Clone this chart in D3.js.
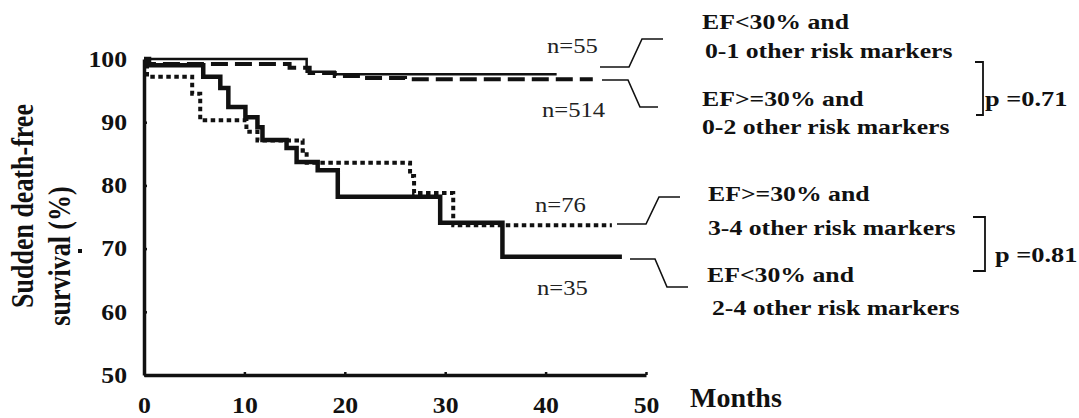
<!DOCTYPE html>
<html>
<head>
<meta charset="utf-8">
<script src="https://cdn.jsdelivr.net/npm/d3@7"></script>
<style>
  body { margin: 0; background: #fff; }
  svg { font-family: "Liberation Serif", "Times New Roman", serif; }
  .axis path, .axis line { stroke: #111; }
</style>
</head>
<body>
<svg width="1079" height="418"></svg>
<script>
// Kaplan-Meier steps: months and survival (%)
const thinTimes = [0, 16.2, 19, 41.1];
const thinValues = [100, 98.0, 97.6, 97.6];

const dashTimes = [0, 0.4, 14.5, 16.5, 19, 22, 26, 44.7];
const dashValues = [100, 99.2, 98.6, 97.8, 97.3, 97.0, 96.8, 96.8];

const dotTimes = [0, 0.3, 4.8, 5.6, 10.2, 11.3, 15.8, 16.2, 26.5, 26.9, 30.8, 46.6];
const dotValues = [100, 97.2, 94.5, 90.3, 88.5, 87.1, 85.5, 83.6, 81.5, 78.8, 73.7, 73.7];

const thickTimes = [0, 0.5, 5.9, 7.6, 8.4, 10.1, 11.3, 11.8, 14.2, 15.2, 17.3, 19.3, 29.5, 35.7, 47.6];
const thickValues = [100, 99.0, 97.2, 95.4, 92.4, 90.8, 89.2, 87.2, 85.9, 83.7, 82.4, 78.2, 74.1, 68.7, 68.7];

const xTicks = [0, 10, 20, 30, 40, 50];
const yTicks = [50, 60, 70, 80, 90, 100];

const groupLabels = ['n=55', 'n=514', 'n=76', 'n=35'];
const legendLines = [
  'EF<30% and', '0-1 other risk markers',
  'EF>=30% and', '0-2 other risk markers',
  'EF>=30% and', '3-4 other risk markers',
  'EF<30% and', '2-4 other risk markers'
];
const pValues = ['p =0.71', 'p =0.81'];

const serif = '"Liberation Serif", "Times New Roman", serif';
const svg = d3.select('svg');

const x = d3.scaleLinear().domain([0, 50]).range([144, 646]);
const y = d3.scaleLinear().domain([50, 100]).range([375, 59]);

function styleAxis(g) {
  g.attr('font-family', null).attr('font-size', null);
  g.select('.domain').attr('stroke-width', 3.5);
  g.selectAll('.tick line').attr('stroke-width', 2.5);
  g.selectAll('.tick text')
      .attr('font-family', serif)
      .attr('font-size', 23)
      .attr('font-weight', 'bold')
      .attr('fill', '#111');
}

// axes
svg.append('g')
    .attr('class', 'axis')
    .attr('transform', 'translate(0,' + y(50) + ')')
    .call(d3.axisBottom(x).tickValues(xTicks).tickSizeInner(-3).tickSizeOuter(0).tickPadding(22))
    .call(styleAxis)
    .call(g => g.selectAll('.tick text').attr('transform', 'scale(1.12,1)'));

svg.append('g')
    .attr('class', 'axis')
    .attr('transform', 'translate(' + x(0) + ',0)')
    .call(d3.axisLeft(y).tickValues(yTicks).tickSizeInner(-3).tickSizeOuter(0).tickPadding(0))
    .call(styleAxis)
    .call(g => g.selectAll('.tick text').attr('x', 0).attr('transform', 'translate(-17,0) scale(1.12,1)'));

// curves
const line = d3.line()
    .x(d => x(d[0]))
    .y(d => y(d[1]))
    .curve(d3.curveStepAfter);

const curves = [
  {t: thinTimes, v: thinValues, w: 2.5, dash: null},
  {t: dashTimes, v: dashValues, w: 4, dash: '17,7'},
  {t: dotTimes, v: dotValues, w: 4, dash: '4.5,3.5'},
  {t: thickTimes, v: thickValues, w: 4.5, dash: null}
];

curves.forEach(c => {
  svg.append('path')
      .datum(d3.zip(c.t, c.v))
      .attr('fill', 'none')
      .attr('stroke', '#111')
      .attr('stroke-width', c.w)
      .attr('stroke-dasharray', c.dash)
      .attr('d', line);
});

// group size labels
const nPos = [[547, 53], [542, 117], [535, 212], [537, 295]];
svg.selectAll('.nlab').data(groupLabels).enter().append('text')
    .attr('class', 'nlab')
    .attr('transform', (d, i) => 'translate(' + nPos[i][0] + ',' + nPos[i][1] + ') scale(1.12,1)')
    .attr('font-size', 22)
    .attr('fill', '#222')
    .text(d => d);

// connectors from curve ends to legend
const connectors = [
  'M600,67 H629 L642,39 H663',
  'M602,80 H628 L640,107 H658',
  'M617,224 H646 L659,197 H680',
  'M630,259 H655 L667,287 H688'
];
svg.selectAll('.conn').data(connectors).enter().append('path')
    .attr('class', 'conn')
    .attr('d', d => d)
    .attr('fill', 'none')
    .attr('stroke', '#111')
    .attr('stroke-width', 1.6);

// legend text
const legPos = [[702, 29], [705, 58], [702, 106], [702, 134], [708, 201], [708, 235], [707, 282], [712, 315]];
svg.selectAll('.leg').data(legendLines).enter().append('text')
    .attr('class', 'leg')
    .attr('transform', (d, i) => 'translate(' + legPos[i][0] + ',' + legPos[i][1] + ') scale(1.17,1)')
    .attr('font-size', 22)
    .attr('font-weight', 'bold')
    .attr('fill', '#111')
    .text(d => d);

// p-value brackets
svg.append('path')
    .attr('d', 'M975,62 H983 V115 H976')
    .attr('fill', 'none').attr('stroke', '#111').attr('stroke-width', 1.8);
svg.append('path')
    .attr('d', 'M973,217 H985 V271 H973')
    .attr('fill', 'none').attr('stroke', '#111').attr('stroke-width', 1.8);

const pPos = [[985, 106], [995, 262]];
svg.selectAll('.pv').data(pValues).enter().append('text')
    .attr('class', 'pv')
    .attr('transform', (d, i) => 'translate(' + pPos[i][0] + ',' + pPos[i][1] + ') scale(1.2,1)')
    .attr('font-size', 22)
    .attr('font-weight', 'bold')
    .attr('fill', '#111')
    .text(d => d);

// axis titles
svg.append('text')
    .attr('x', 690).attr('y', 407)
    .attr('font-size', 28)
    .attr('font-weight', 'bold')
    .attr('fill', '#111')
    .text('Months');

svg.append('text')
    .attr('transform', 'translate(33,206) scale(1.18,1) rotate(-90)')
    .attr('text-anchor', 'middle')
    .attr('font-size', 26)
    .attr('font-weight', 'bold')
    .attr('fill', '#111')
    .text('Sudden death-free');

svg.append('text')
    .attr('transform', 'translate(70,256) scale(1.18,1) rotate(-90)')
    .attr('text-anchor', 'middle')
    .attr('font-size', 26)
    .attr('font-weight', 'bold')
    .attr('fill', '#111')
    .text('survival (%)');

svg.append('rect')
    .attr('x', 78).attr('y', 249).attr('width', 4).attr('height', 4)
    .attr('fill', '#111');
</script>
</body>
</html>
